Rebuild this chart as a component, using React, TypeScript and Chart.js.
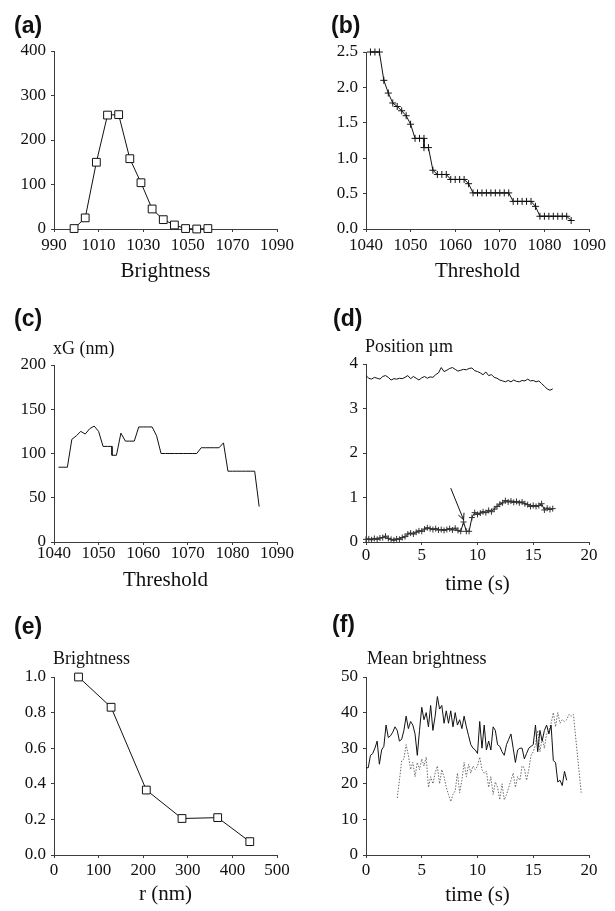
import React, { useEffect, useRef } from "react";
import { Chart, registerables } from "chart.js";

Chart.register(...registerables);

const SERIF = "'Liberation Serif', 'Times New Roman', Times, serif";
const SANS = "'Liberation Sans', Arial, Helvetica, sans-serif";
const INK = "#111111";
const AXIS = "#3c3c3c";

// ---------- (a) brightness histogram ----------
const brightnessA = [999, 1004, 1009, 1014, 1019, 1024, 1029, 1034, 1039, 1044, 1049, 1054, 1059];
const countA = [1, 25, 150, 256, 257, 158, 104, 45, 21, 9, 1, 0, 1];

// ---------- (b), (c) threshold scans ----------
const thresholds = [1041, 1042, 1043, 1044, 1045, 1046, 1047, 1048, 1049, 1050, 1051, 1052, 1053, 1053, 1054, 1055, 1056, 1057, 1058, 1059, 1060, 1061, 1062, 1063, 1064, 1065, 1066, 1067, 1068, 1069, 1070, 1071, 1072, 1073, 1074, 1075, 1076, 1077, 1078, 1079, 1080, 1081, 1082, 1083, 1084, 1085, 1086];
const valueB = [2.5, 2.5, 2.5, 2.1, 1.92, 1.78, 1.73, 1.67, 1.6, 1.48, 1.28, 1.28, 1.28, 1.15, 1.15, 0.83, 0.77, 0.77, 0.77, 0.7, 0.7, 0.7, 0.7, 0.64, 0.51, 0.51, 0.51, 0.51, 0.51, 0.51, 0.51, 0.51, 0.51, 0.39, 0.39, 0.39, 0.39, 0.39, 0.32, 0.18, 0.18, 0.18, 0.18, 0.18, 0.18, 0.18, 0.12];
const xgC = [84.5, 84.5, 84.5, 116, 120, 125, 122, 128, 131, 125, 108, 108, 108, 98, 98, 123, 114, 114, 114, 130, 130, 130, 130, 120, 100, 100, 100, 100, 100, 100, 100, 100, 100, 106.5, 106.5, 106.5, 106.5, 106.5, 112, 80, 80, 80, 80, 80, 80, 80, 40];

// ---------- (d) position vs time ----------
const timeD = [0, 0.25, 0.5, 0.75, 1, 1.25, 1.5, 1.75, 2, 2.25, 2.5, 2.75, 3, 3.25, 3.5, 3.75, 4, 4.25, 4.5, 4.75, 5, 5.25, 5.5, 5.75, 6, 6.25, 6.5, 6.75, 7, 7.25, 7.5, 7.75, 8, 8.25, 8.5, 8.75, 9, 9.25, 9.5, 9.75, 10, 10.25, 10.5, 10.75, 11, 11.25, 11.5, 11.75, 12, 12.25, 12.5, 12.75, 13, 13.25, 13.5, 13.75, 14, 14.25, 14.5, 14.75, 15, 15.25, 15.5, 15.75, 16, 16.25, 16.5, 16.75];
const upperD = [3.74, 3.68, 3.66, 3.7, 3.68, 3.66, 3.72, 3.74, 3.7, 3.64, 3.67, 3.66, 3.68, 3.67, 3.7, 3.74, 3.67, 3.72, 3.68, 3.64, 3.69, 3.72, 3.68, 3.71, 3.7, 3.76, 3.8, 3.92, 3.83, 3.86, 3.9, 3.92, 3.88, 3.84, 3.86, 3.88, 3.87, 3.9, 3.91, 3.85, 3.83, 3.8, 3.76, 3.82, 3.74, 3.76, 3.7, 3.68, 3.64, 3.62, 3.6, 3.63, 3.6, 3.64, 3.61, 3.6, 3.63, 3.62, 3.66, 3.62, 3.63, 3.6, 3.62, 3.56, 3.5, 3.44, 3.41, 3.44];
const lowerD = [0.06, 0.07, 0.05, 0.08, 0.06, 0.09, 0.1, 0.13, 0.08, 0.06, 0.04, 0.07, 0.06, 0.1, 0.12, 0.18, 0.2, 0.18, 0.22, 0.25, 0.24, 0.29, 0.32, 0.3, 0.28, 0.3, 0.27, 0.28, 0.26, 0.28, 0.3, 0.27, 0.31, 0.26, 0.24, 0.45, 0.24, 0.24, 0.55, 0.66, 0.62, 0.65, 0.68, 0.66, 0.71, 0.68, 0.74, 0.8, 0.85, 0.88, 0.93, 0.9, 0.92, 0.89, 0.91, 0.88, 0.9, 0.86, 0.84, 0.8, 0.82, 0.8, 0.82, 0.86, 0.72, 0.76, 0.73, 0.75];
const arrowD = [7.6, 1.21, 8.75, 0.5]; // from (t, pos) to (t, pos)

// ---------- (e) brightness vs radius ----------
const radiusE = [55, 128, 207, 287, 367, 439];
const brightnessE = [1.0, 0.83, 0.365, 0.205, 0.21, 0.075];

// ---------- (f) mean brightness vs time ----------
const timeF1 = [0, 0.2, 0.4, 0.6, 0.8, 1, 1.2, 1.4, 1.6, 1.8, 2, 2.2, 2.4, 2.6, 2.8, 3, 3.2, 3.4, 3.6, 3.8, 4, 4.2, 4.4, 4.6, 4.8, 5, 5.2, 5.4, 5.6, 5.8, 6, 6.2, 6.4, 6.6, 6.8, 7, 7.2, 7.4, 7.6, 7.8, 8, 8.2, 8.4, 8.6, 8.8, 9, 9.2, 9.4, 9.6, 9.8, 10, 10.2, 10.4, 10.6, 10.8, 11, 11.2, 11.4, 11.6, 11.8, 12, 12.2, 12.4, 12.6, 12.8, 13, 13.2, 13.4, 13.6, 13.8, 14, 14.2, 14.4, 14.6, 14.8, 15, 15.2, 15.4, 15.6, 15.8, 16, 16.2, 16.4, 16.6, 16.8, 17, 17.2, 17.4, 17.6, 17.8, 18];
const solidF = [24.5, 24.5, 28, 28.5, 30, 32, 25.5, 29.5, 30.5, 36.5, 33, 33.5, 34.5, 36, 35, 32, 32.5, 35, 39, 35.5, 37.5, 36.5, 34, 28, 35, 41.5, 38, 40, 36, 42, 35, 39, 44.5, 41, 42, 37, 40.5, 37, 40.5, 36, 40, 36.5, 38, 35.5, 39, 36, 33.5, 31, 30, 29.5, 28.5, 37.5, 30, 36.5, 29.5, 32, 29.5, 36, 35, 31, 30.5, 29, 28, 31, 32.5, 34, 30, 26, 29.5, 30, 30, 27, 28.5, 30, 30.5, 31, 36.5, 29, 35, 32, 35, 36.5, 34, 36.5, 26.5, 26, 20.5, 21, 19.5, 23.5, 21];
const timeF2 = [2.8, 3, 3.2, 3.4, 3.6, 3.8, 4, 4.2, 4.4, 4.6, 4.8, 5, 5.2, 5.4, 5.6, 5.8, 6, 6.2, 6.4, 6.6, 6.8, 7, 7.2, 7.4, 7.6, 7.8, 8, 8.2, 8.4, 8.6, 8.8, 9, 9.2, 9.4, 9.6, 9.8, 10, 10.2, 10.4, 10.6, 10.8, 11, 11.2, 11.4, 11.6, 11.8, 12, 12.2, 12.4, 12.6, 12.8, 13, 13.2, 13.4, 13.6, 13.8, 14, 14.2, 14.4, 14.6, 14.8, 15, 15.2, 15.4, 15.6, 15.8, 16, 16.2, 16.4, 16.6, 16.8, 17, 17.2, 17.4, 17.6, 17.8, 18, 18.2, 18.4, 18.6, 19.3];
const dottedF = [16, 21, 26.5, 27, 31, 28, 24, 26, 22, 26, 24, 27, 25, 27.5, 19, 22, 20, 23, 25, 20, 24, 22, 19, 17, 15, 17, 18, 23, 17.5, 21, 26, 22, 25.5, 23, 25, 24, 25, 27.5, 24, 23, 23.5, 19, 22, 17, 20.5, 19, 15.5, 20, 15.5, 17, 19, 21, 23, 19, 22, 21, 25, 24.5, 21, 24, 28, 29, 31, 35, 29, 33, 30, 34, 35, 37, 40, 36, 40, 37, 38, 37.5, 38, 39.5, 39, 39.5, 17.5];

const zip = (xs: number[], ys: number[]) => xs.map((x, i) => ({ x, y: ys[i] }));

type AxisSpec = {
  xMin: number; xMax: number; xStep: number;
  yMin: number; yMax: number; yStep: number; yDec?: number;
  xTitle: string;
  yWidth: number; xHeight: number; padTop: number; padRight: number;
  xTickPad: number; xTitlePad: number;
};

function makeOptions(s: AxisSpec, extraPlugins: any = {}) {
  const tickFont = { family: SERIF, size: 17 };
  const grid = { display: true, drawOnChartArea: false, drawTicks: true, tickLength: 3, color: AXIS, lineWidth: 1 };
  const border = { display: true, color: AXIS, width: 1 };
  return {
    responsive: false,
    animation: false as const,
    layout: { padding: { left: 0, top: s.padTop, right: s.padRight, bottom: 0 } },
    plugins: { legend: { display: false }, tooltip: { enabled: false }, ...extraPlugins },
    scales: {
      x: {
        type: "linear" as const,
        min: s.xMin, max: s.xMax,
        afterFit: (sc: any) => { sc.height = s.xHeight; },
        ticks: { stepSize: s.xStep, autoSkip: false, maxRotation: 0, padding: s.xTickPad, color: INK, font: tickFont, callback: (v: any) => String(v) },
        grid, border,
        title: { display: true, text: s.xTitle, color: INK, font: { family: SERIF, size: 21 }, padding: { top: 0, bottom: s.xTitlePad } },
      },
      y: {
        type: "linear" as const,
        min: s.yMin, max: s.yMax,
        afterFit: (sc: any) => { sc.width = s.yWidth; },
        ticks: { stepSize: s.yStep, padding: 5, color: INK, font: tickFont, callback: (v: any) => (s.yDec ? Number(v).toFixed(s.yDec) : String(Math.round(Number(v) * 1000) / 1000)) },
        grid, border,
      },
    },
  };
}

const arrowPlugin = {
  id: "arrowD",
  afterDatasetsDraw(chart: any, _args: any, opts: any) {
    const pts = opts && opts.points;
    if (!pts) return;
    const xs = chart.scales.x, ys = chart.scales.y;
    const x1 = xs.getPixelForValue(pts[0]), y1 = ys.getPixelForValue(pts[1]);
    const x2 = xs.getPixelForValue(pts[2]), y2 = ys.getPixelForValue(pts[3]);
    const ctx = chart.ctx;
    ctx.save();
    ctx.strokeStyle = INK;
    ctx.lineWidth = 1;
    ctx.beginPath();
    ctx.moveTo(x1, y1);
    ctx.lineTo(x2, y2);
    const ang = Math.atan2(y2 - y1, x2 - x1);
    const L = 7;
    ctx.moveTo(x2 - L * Math.cos(ang - 0.45), y2 - L * Math.sin(ang - 0.45));
    ctx.lineTo(x2, y2);
    ctx.lineTo(x2 - L * Math.cos(ang + 0.45), y2 - L * Math.sin(ang + 0.45));
    ctx.stroke();
    ctx.restore();
  },
};

const squareSet = (data: any[]) => ({
  data, borderColor: INK, borderWidth: 1, tension: 0, clip: false as const,
  pointStyle: "rect", pointRadius: 5.5, pointBackgroundColor: "#ffffff", pointBorderColor: INK, pointBorderWidth: 1,
});

const panels: { left: number; top: number; width: number; height: number; make: () => any }[] = [
  {
    left: 0, top: 0, width: 307, height: 295,
    make: () => ({
      type: "line",
      data: { datasets: [squareSet(zip(brightnessA, countA))] },
      options: makeOptions({ xMin: 990, xMax: 1090, xStep: 20, yMin: 0, yMax: 400, yStep: 100, xTitle: "Brightness", yWidth: 54, xHeight: 66, padTop: 51, padRight: 30, xTickPad: 3, xTitlePad: 11 }),
    }),
  },
  {
    left: 307, top: 0, width: 308, height: 295,
    make: () => ({
      type: "line",
      data: { datasets: [{ data: zip(thresholds, valueB), borderColor: INK, borderWidth: 1, tension: 0, clip: false, pointStyle: "cross", pointRadius: 3.5, pointBorderColor: INK, pointBorderWidth: 1 }] },
      options: makeOptions({ xMin: 1040, xMax: 1090, xStep: 10, yMin: 0, yMax: 2.5, yStep: 0.5, yDec: 1, xTitle: "Threshold", yWidth: 59, xHeight: 66, padTop: 52, padRight: 26, xTickPad: 3, xTitlePad: 11 }),
    }),
  },
  {
    left: 0, top: 295, width: 307, height: 305,
    make: () => ({
      type: "line",
      data: { datasets: [{ data: zip(thresholds, xgC), borderColor: INK, borderWidth: 1, tension: 0, clip: false, pointRadius: 0 }] },
      options: makeOptions({ xMin: 1040, xMax: 1090, xStep: 10, yMin: 0, yMax: 200, yStep: 50, xTitle: "Threshold", yWidth: 54, xHeight: 58, padTop: 70, padRight: 30, xTickPad: -2, xTitlePad: 7 }),
    }),
  },
  {
    left: 307, top: 295, width: 308, height: 305,
    make: () => ({
      type: "line",
      data: {
        datasets: [
          { data: zip(timeD, upperD), borderColor: INK, borderWidth: 1, tension: 0, clip: false, pointRadius: 0 },
          { data: zip(timeD, lowerD), borderColor: INK, borderWidth: 1, tension: 0, clip: false, pointStyle: "cross", pointRadius: 3, pointBorderColor: "#333333", pointBorderWidth: 1 },
        ],
      },
      plugins: [arrowPlugin],
      options: makeOptions({ xMin: 0, xMax: 20, xStep: 5, yMin: 0, yMax: 4, yStep: 1, xTitle: "time (s)", yWidth: 59, xHeight: 58, padTop: 69, padRight: 26, xTickPad: 0, xTitlePad: 3 }, { arrowD: { points: arrowD } }),
    }),
  },
  {
    left: 0, top: 600, width: 307, height: 311,
    make: () => ({
      type: "line",
      data: { datasets: [squareSet(zip(radiusE, brightnessE))] },
      options: makeOptions({ xMin: 0, xMax: 500, xStep: 100, yMin: 0, yMax: 1, yStep: 0.2, yDec: 1, xTitle: "r (nm)", yWidth: 54, xHeight: 56, padTop: 77, padRight: 30, xTickPad: 2, xTitlePad: 4 }),
    }),
  },
  {
    left: 307, top: 600, width: 308, height: 311,
    make: () => ({
      type: "line",
      data: {
        datasets: [
          { data: zip(timeF1, solidF), borderColor: INK, borderWidth: 1, tension: 0, clip: false, pointRadius: 0 },
          { data: zip(timeF2, dottedF), borderColor: "#6a6a6a", borderWidth: 1, borderDash: [1.5, 1.5], tension: 0, clip: false, pointRadius: 0 },
        ],
      },
      options: makeOptions({ xMin: 0, xMax: 20, xStep: 5, yMin: 0, yMax: 50, yStep: 10, xTitle: "time (s)", yWidth: 59, xHeight: 56, padTop: 77, padRight: 26, xTickPad: 2, xTitlePad: 3 }),
    }),
  },
];

const letters = [
  { text: "(a)", left: 14, top: 14 },
  { text: "(b)", left: 331, top: 14 },
  { text: "(c)", left: 14, top: 307 },
  { text: "(d)", left: 333, top: 307 },
  { text: "(e)", left: 14, top: 615 },
  { text: "(f)", left: 332, top: 613 },
];

const yTitles = [
  { text: "xG (nm)", left: 53, top: 339 },
  { text: "Position µm", left: 365, top: 337 },
  { text: "Brightness", left: 53, top: 649 },
  { text: "Mean brightness", left: 367, top: 649 },
];

function Panel(p: { left: number; top: number; width: number; height: number; make: () => any }) {
  const ref = useRef<HTMLCanvasElement | null>(null);
  useEffect(() => {
    if (!ref.current) return;
    const chart = new Chart(ref.current, p.make());
    return () => chart.destroy();
  }, []);
  return (
    <canvas
      ref={ref}
      width={p.width}
      height={p.height}
      style={{ position: "absolute", left: p.left, top: p.top, width: p.width, height: p.height }}
    />
  );
}

export default function App() {
  return (
    <div style={{ position: "absolute", left: 0, top: 0, width: 615, height: 911, background: "#ffffff", overflow: "hidden" }}>
      {panels.map((p, i) => (
        <Panel key={i} {...p} />
      ))}
      {letters.map((l, i) => (
        <div key={"l" + i} style={{ position: "absolute", left: l.left, top: l.top, fontFamily: SANS, fontWeight: 700, fontSize: 23, lineHeight: "23px", color: INK, whiteSpace: "nowrap" }}>
          {l.text}
        </div>
      ))}
      {yTitles.map((t, i) => (
        <div key={"t" + i} style={{ position: "absolute", left: t.left, top: t.top, fontFamily: SERIF, fontSize: 18, lineHeight: "18px", color: INK, whiteSpace: "nowrap" }}>
          {t.text}
        </div>
      ))}
    </div>
  );
}
